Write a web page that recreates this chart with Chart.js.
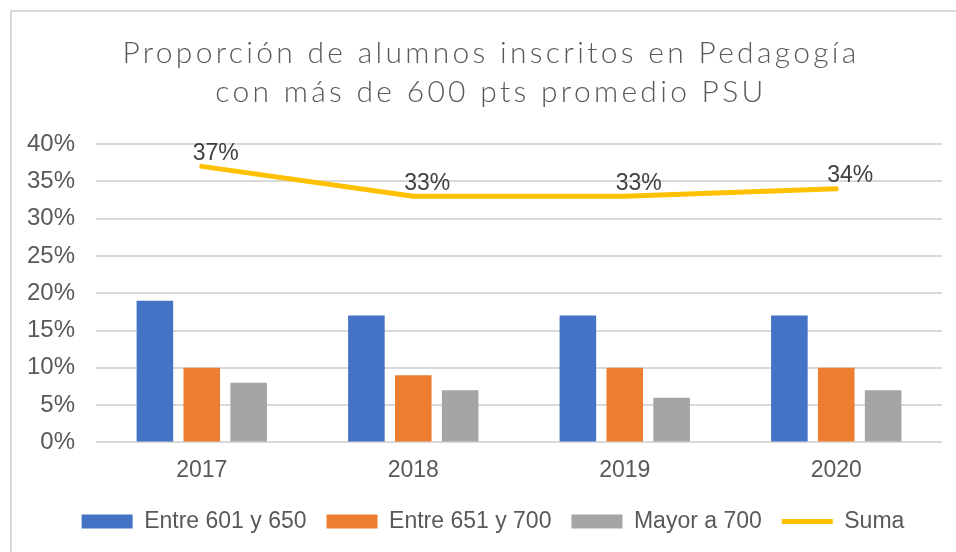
<!DOCTYPE html>
<html>
<head>
<meta charset="utf-8">
<script src="https://cdn.jsdelivr.net/npm/chart.js@4"></script>
<style>
  html, body { margin: 0; padding: 0; background: #fff; }
  #wrap { position: relative; width: 956px; height: 552px; overflow: hidden; }
  #frame { position: absolute; left: 10px; top: 10px; width: 1000px; height: 600px;
           border: 2px solid #d9d9d9; pointer-events: none; }
</style>
</head>
<body>
<div id="wrap">
  <canvas id="chart" width="956" height="552"></canvas>
  <div id="frame"></div>
</div>
<script>
// --- DATA ---
const years = ['2017', '2018', '2019', '2020'];
const entre601y650 = [19, 17, 17, 17];
const entre651y700 = [10, 9, 10, 10];
const mayorA700 = [8, 7, 6, 7];
const suma = [37, 33, 33, 34];

const seriesNames = ['Entre 601 y 650', 'Entre 651 y 700', 'Mayor a 700', 'Suma'];
const titleLines = ['Proporción de alumnos inscritos en Pedagogía', 'con más de 600 pts promedio PSU'];
const colors = ['#4472C4', '#ED7D31', '#A5A5A5', '#FFC000'];

const textColor = '#595959';
const fontFamily = "'Liberation Sans', Arial, sans-serif";

// titulo dibujado a mano (con espaciado de letras)
const titlePlugin = {
  id: 'titleSpaced',
  afterDraw(chart) {
    const c = chart.ctx;
    c.save();
    c.font = "300 30px Lato, 'Open Sans', sans-serif";
    c.fillStyle = textColor;
    c.textAlign = 'center';
    c.textBaseline = 'alphabetic';
    c.letterSpacing = '3.3px';
    c.fillText(titleLines[0], 491, 63);
    c.fillText(titleLines[1], 491, 102);
    c.restore();
  }
};

// leyenda un poco corrida a la derecha (como en el original)
const legendShift = {
  id: 'legendShift',
  afterLayout(chart) {
    chart.legend.left += 19;
    chart.legend.right += 19;
  }
};

// etiquetas encima de la linea "Suma"
const lineLabels = {
  id: 'lineLabels',
  afterDatasetsDraw(chart) {
    const meta = chart.getDatasetMeta(3);
    const c = chart.ctx;
    c.save();
    c.font = '23px ' + fontFamily;
    c.fillStyle = '#404040';
    c.textAlign = 'center';
    c.textBaseline = 'middle';
    meta.data.forEach((pt, i) => {
      c.fillText(suma[i] + '%', pt.x + 14, pt.y - 13);
    });
    c.restore();
  }
};

const ctx = document.getElementById('chart').getContext('2d');
new Chart(ctx, {
  type: 'bar',
  data: {
    labels: years,
    datasets: [
      { label: seriesNames[0], data: entre601y650, backgroundColor: colors[0], order: 1 },
      { label: seriesNames[1], data: entre651y700, backgroundColor: colors[1], order: 1 },
      { label: seriesNames[2], data: mayorA700, backgroundColor: colors[2], order: 1 },
      {
        label: seriesNames[3], data: suma, type: 'line',
        borderColor: colors[3], backgroundColor: colors[3],
        borderWidth: 5, pointRadius: 0, tension: 0,
        borderCapStyle: 'round', borderJoinStyle: 'round', order: 0
      }
    ]
  },
  options: {
    responsive: false,
    animation: false,
    layout: { padding: { left: 6, right: 14, top: 144, bottom: 9 } },
    datasets: {
      bar: { categoryPercentage: 0.665, barPercentage: 0.78 }
    },
    plugins: {
      title: { display: false },
      legend: {
        position: 'bottom',
        labels: {
          color: textColor,
          font: { family: fontFamily, size: 23 },
          usePointStyle: true,
          pointStyleWidth: 51,
          boxHeight: 14,
          padding: 20,
          generateLabels: () => seriesNames.map((name, i) => ({
            text: name,
            fillStyle: colors[i],
            strokeStyle: colors[i],
            lineWidth: i === 3 ? 5 : 0,
            pointStyle: i === 3 ? 'line' : 'rect',
            fontColor: textColor,
            datasetIndex: i,
            hidden: false
          }))
        }
      },
      tooltip: { enabled: false }
    },
    scales: {
      x: {
        grid: { display: false },
        border: { display: false },
        ticks: { color: textColor, font: { family: fontFamily, size: 23 }, padding: 6 }
      },
      y: {
        min: 0,
        max: 40,
        ticks: {
          stepSize: 5,
          color: textColor,
          font: { family: fontFamily, size: 24 },
          padding: 21,
          callback: v => v + '%'
        },
        grid: { color: '#d9d9d9', lineWidth: 2, drawTicks: false },
        border: { display: false }
      }
    }
  },
  plugins: [lineLabels, titlePlugin, legendShift]
});
</script>
</body>
</html>
